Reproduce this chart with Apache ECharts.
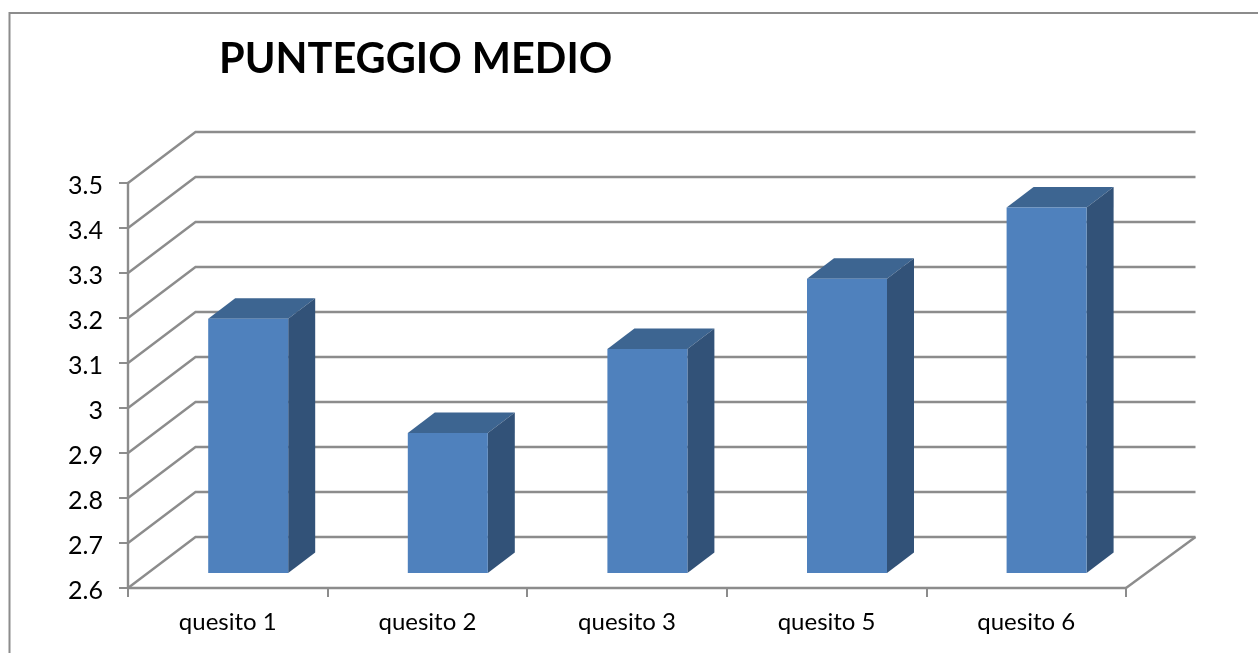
<!DOCTYPE html>
<html>
<head>
<meta charset="utf-8">
<style>html,body{margin:0;padding:0;background:#fff}#chart{width:1258px;height:653px}</style>
<script src="https://cdn.jsdelivr.net/npm/echarts@6/dist/echarts.min.js"></script>
</head>
<body>
<div id="chart"></div>
<script>
var categories = ['quesito 1', 'quesito 2', 'quesito 3', 'quesito 5', 'quesito 6'];
var scores = [3.165, 2.911, 3.098, 3.254, 3.412];
var yTicks = [2.6, 2.7, 2.8, 2.9, 3.0, 3.1, 3.2, 3.3, 3.4, 3.5];
var axisGrey = '#8c8c8c';
var wallDepth = { x: 67.5, y: -51 };
var barOffset = { x: 20.4, y: -15 };
var barDepth = { x: 27, y: -20.5 };
var barWidth = 80;

function renderWall(params, api) {
  var cs = params.coordSys;
  var v = api.value(0);
  var p = api.coord([categories[0], v]);
  var y = p[1];
  var left = cs.x, right = cs.x + cs.width;
  var children = [{
    type: 'polyline',
    shape: { points: [[left, y], [left + wallDepth.x, y + wallDepth.y], [right + wallDepth.x + 2, y + wallDepth.y]] },
    style: { stroke: axisGrey, lineWidth: 2.4, fill: null }
  }];
  if (params.dataIndex === 0) {
    children.push({
      type: 'line',
      shape: { x1: right, y1: y, x2: right + wallDepth.x + 2, y2: y + wallDepth.y },
      style: { stroke: axisGrey, lineWidth: 2.4 }
    });
  }
  return { type: 'group', children: children };
}

function renderBar(params, api) {
  var top = api.coord([api.value(0), api.value(1)]);
  var base = api.coord([api.value(0), yTicks[0]]);
  var x0 = top[0] + barOffset.x - barWidth / 2;
  var x1 = x0 + barWidth;
  var yT = top[1] + barOffset.y;
  var yB = base[1] + barOffset.y;
  var dx = barDepth.x, dy = barDepth.y;
  return {
    type: 'group',
    children: [
      { type: 'polygon', shape: { points: [[x0, yT], [x1, yT], [x1 + dx, yT + dy], [x0 + dx, yT + dy]] },
        style: { fill: '#3d6591' } },
      { type: 'polygon', shape: { points: [[x1, yT], [x1 + dx, yT + dy], [x1 + dx, yB + dy], [x1, yB]] },
        style: { fill: '#325278' } },
      { type: 'rect', shape: { x: x0, y: yT, width: barWidth, height: yB - yT },
        style: { fill: '#4f81bd' } }
    ]
  };
}

var chart = echarts.init(document.getElementById('chart'), null, { renderer: 'canvas' });
chart.setOption({
  animation: false,
  backgroundColor: '#ffffff',
  graphic: [{
    type: 'polyline',
    silent: true,
    z: -1,
    shape: { points: [[9.5, 653], [9.5, 13], [1258, 13]] },
    style: { stroke: axisGrey, lineWidth: 2, fill: null }
  }],
  title: {
    text: 'PUNTEGGIO MEDIO',
    left: 219,
    top: 39,
    padding: 0,
    textStyle: { fontFamily: 'Lato', fontWeight: 'bold', fontSize: 41.5, color: '#000000' }
  },
  grid: { left: 128, right: 132, top: 183, bottom: 65, containLabel: false },
  xAxis: {
    type: 'category',
    data: categories,
    boundaryGap: true,
    axisLine: { show: true, lineStyle: { color: axisGrey, width: 2.4 } },
    axisTick: { show: true, length: 9, alignWithLabel: false, lineStyle: { color: axisGrey, width: 2 } },
    axisLabel: { color: '#000000', fontFamily: 'Lato', fontSize: 24, margin: 22, interval: 0 },
    splitLine: { show: false }
  },
  yAxis: {
    type: 'value',
    min: 2.6,
    max: 3.5,
    interval: 0.1,
    axisLine: { show: true, lineStyle: { color: axisGrey, width: 2.4 } },
    axisTick: { show: true, length: 9, lineStyle: { color: axisGrey, width: 2 } },
    axisLabel: { color: '#000000', fontFamily: 'Lato', fontSize: 25, margin: 25, verticalAlign: 'top', lineHeight: 5 },
    splitLine: { show: false }
  },
  series: [
    {
      type: 'custom',
      name: 'griglia',
      renderItem: renderWall,
      data: yTicks.map(function (t) { return [t]; }),
      encode: { y: 0 },
      clip: false,
      silent: true,
      z: 1
    },
    {
      type: 'custom',
      name: 'PUNTEGGIO MEDIO',
      renderItem: renderBar,
      data: categories.map(function (c, i) { return [i, scores[i]]; }),
      encode: { x: 0, y: 1 },
      clip: false,
      z: 3
    }
  ]
});
</script>
</body>
</html>
